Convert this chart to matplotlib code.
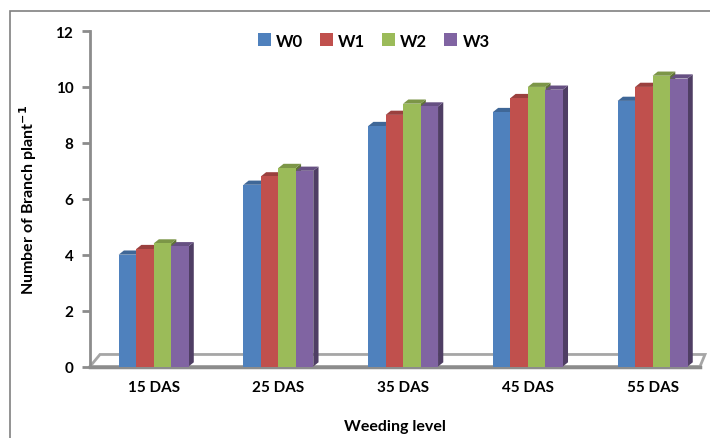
import numpy as np
import matplotlib
matplotlib.use("Agg")
import matplotlib.pyplot as plt
from matplotlib.patches import Polygon, Rectangle
from matplotlib.colors import to_rgb

plt.rcParams['font.family'] = ['Lato', 'DejaVu Sans']
plt.rcParams['font.weight'] = 'bold'

# data
categories = ["15 DAS", "25 DAS", "35 DAS", "45 DAS", "55 DAS"]
series_names = ["W0", "W1", "W2", "W3"]
w0 = [4.0, 6.5, 8.6, 9.1, 9.5]
w1 = [4.2, 6.8, 9.0, 9.6, 10.0]
w2 = [4.4, 7.1, 9.4, 10.0, 10.4]
w3 = [4.3, 7.0, 9.3, 9.9, 10.3]
series = [w0, w1, w2, w3]
colors = ["#4F81BD", "#C0504D", "#9BBB59", "#8064A2"]


def shade(c, f):
    r, g, b = to_rgb(c)
    return (r * f, g * f, b * f)


fig = plt.figure(figsize=(7.1, 4.39), dpi=100)
W, H = 710, 439

# outer chart border
fig.patches.append(Rectangle((10 / W, -0.01), 1.0, 1 - 12 / H + 0.01,
                             transform=fig.transFigure, fill=False,
                             edgecolor="#808080", linewidth=1.2))

ax = fig.add_axes([90 / W, (H - 367.5) / H, 610 / W, (367.5 - 32) / H])
xmin, xmax = -0.51, 4.38
ax.set_xlim(xmin, xmax)
ax.set_ylim(0, 12)

bw = 0.14           # bar front width
dx, dy = 0.042, 0.15  # fake depth

# floor
floor = Polygon([(xmin, 0), (xmin + 0.08, 0.43), (xmax + 0.04, 0.43), (xmax, 0)],
                closed=True, facecolor="white", edgecolor="#a6a6a6",
                linewidth=2, zorder=1, clip_on=False)
ax.add_patch(floor)
ax.plot([xmin, xmax], [0, 0], color="#8c8c8c", linewidth=2.5,
        zorder=1.5, clip_on=False)

x = np.arange(len(categories))
for i, (vals, c) in enumerate(zip(series, colors)):
    xs = x + (i - 1.5) * bw
    for xc, h in zip(xs, vals):
        z = 2 + i
        left, right = xc - bw / 2, xc + bw / 2
        ax.add_patch(Polygon([(right, 0), (right + dx, dy), (right + dx, h + dy), (right, h)],
                             closed=True, facecolor=shade(c, 0.62), edgecolor="none", zorder=z))
        ax.add_patch(Polygon([(left, h), (left + dx, h + dy), (right + dx, h + dy), (right, h)],
                             closed=True, facecolor=shade(c, 0.8), edgecolor="none", zorder=z))
    ax.bar(xs, vals, width=bw, color=c, zorder=2 + i + 0.5, label=series_names[i])

for s in ["top", "right", "bottom"]:
    ax.spines[s].set_visible(False)
ax.spines["left"].set_color("#8c8c8c")
ax.spines["left"].set_linewidth(2)

ax.set_yticks(np.arange(0, 13, 2))
ax.tick_params(axis="y", length=6, width=2, color="#8c8c8c", labelsize=11, pad=6)
ax.tick_params(axis="x", length=0, labelsize=11, pad=10)
ax.set_xticks(x)
ax.set_xticklabels(categories)

ax.set_ylabel("Number of Branch plant$^{\\mathbf{-1}}$", fontsize=11.5, fontweight="bold", labelpad=12)
ax.set_xlabel("Weeding level", fontsize=11.5, fontweight="bold", labelpad=18)

leg = ax.legend(loc="upper center", bbox_to_anchor=(0.465, 1.04), ncol=4, frameon=False,
                fontsize=12, handlelength=0.8, handleheight=0.8, handletextpad=0.3,
                columnspacing=1.0)
for t in leg.get_texts():
    t.set_fontweight("bold")

fig.savefig("out.png", dpi=100)
